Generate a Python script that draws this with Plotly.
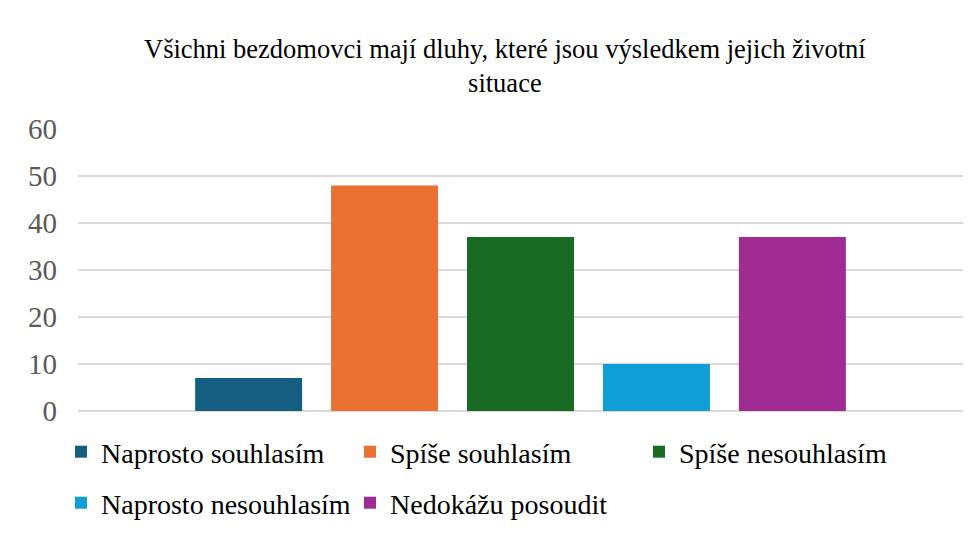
import plotly.graph_objects as go

title = "Všichni bezdomovci mají dluhy, které jsou výsledkem jejich životní<br>situace"
series = ["Naprosto souhlasím", "Spíše souhlasím", "Spíše nesouhlasím",
          "Naprosto nesouhlasím", "Nedokážu posoudit"]
values = [7, 48, 37, 10, 37]
colors = ["#156082", "#E97132", "#196B24", "#0F9ED5", "#A02B93"]
legend_rows = ["legend", "legend", "legend", "legend2", "legend2"]
category = [""]
y_ticks = [0, 10, 20, 30, 40, 50, 60]

FONT = "Liberation Serif"
OFF = 8  # page body margin
W, H = 980 - OFF, 536 - OFF
L, R_EDGE, TOP, BOT = 78 - OFF, 963 - OFF, 129 - OFF, 411 - OFF
PW, PH = R_EDGE - L, BOT - TOP

fx = lambda px: (px - 78) / PW
fy = lambda py: (411 - py) / PH

fig = go.Figure()
for name, v, c, lg in zip(series, values, colors, legend_rows):
    fig.add_trace(go.Bar(x=category, y=[v], name=name, marker_color=c,
                         marker_line_width=0, legend=lg))

fig.add_annotation(text=title, xref="paper", yref="paper", x=fx(505), y=fy(66),
                   xanchor="center", yanchor="middle", align="center", showarrow=False,
                   font=dict(family=FONT, size=26.5, color="#000000"))

legend_common = dict(orientation="h", xanchor="left", yanchor="middle",
                     entrywidth=244, entrywidthmode="pixels", itemwidth=30,
                     font=dict(family=FONT, size=28, color="#000000"),
                     bgcolor="rgba(0,0,0,0)")

fig.update_layout(
    width=W, height=H,
    paper_bgcolor="white", plot_bgcolor="white",
    barmode="group", bargap=0.232, bargroupgap=0.213,
    margin=dict(l=L, r=W - R_EDGE, t=TOP, b=H - BOT, autoexpand=False),
    xaxis=dict(showticklabels=False, showgrid=False, zeroline=False, showline=False,
               automargin=False),
    yaxis=dict(range=[0, 60], tickvals=y_ticks, showgrid=True, gridcolor="#d9d9d9",
               gridwidth=1.5, zeroline=True, zerolinecolor="#d9d9d9", zerolinewidth=1.5,
               showline=False, ticklabelstandoff=20, automargin=False,
               tickfont=dict(family=FONT, size=29, color="#595959")),
    legend=dict(x=fx(61), y=fy(452), **legend_common),
    legend2=dict(x=fx(61), y=fy(503), **legend_common),
)

fig.write_html("out.html")
